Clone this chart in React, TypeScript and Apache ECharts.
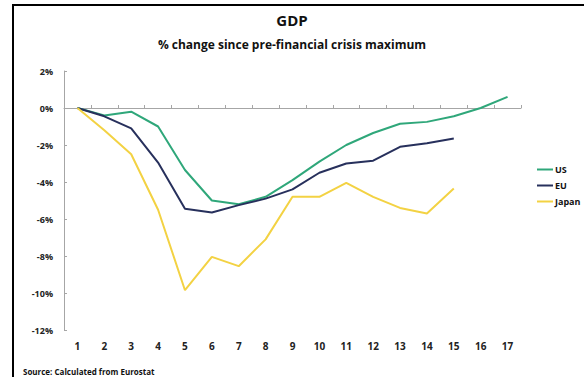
import React, { useEffect, useRef } from "react";
import * as echarts from "echarts";

const categories = ["1","2","3","4","5","6","7","8","9","10","11","12","13","14","15","16","17"];
const usValues = [0, -0.4, -0.2, -1.0, -3.35, -5.0, -5.2, -4.8, -3.9, -2.9, -2.0, -1.35, -0.85, -0.75, -0.45, 0.0, 0.6];
const euValues = [0, -0.45, -1.1, -2.95, -5.45, -5.65, -5.25, -4.9, -4.4, -3.5, -3.0, -2.85, -2.1, -1.9, -1.65];
const japanValues = [0, -1.2, -2.5, -5.5, -9.85, -8.05, -8.55, -7.1, -4.8, -4.8, -4.05, -4.8, -5.4, -5.7, -4.35];
const seriesNames = ["US", "EU", "Japan"];
const colors = ["#2fa77a", "#27305c", "#f3d243"];

const FONT = "'Open Sans', 'Liberation Sans', sans-serif";

export default function App() {
  const ref = useRef<HTMLDivElement>(null);
  useEffect(() => {
    const chart = echarts.init(ref.current!, null, { renderer: "svg" });
    chart.setOption({
      animation: false,
      backgroundColor: "#ffffff",
      title: [
        { text: "GDP", left: "center", top: 7, textStyle: { fontFamily: FONT, fontSize: 15, fontWeight: "bold", color: "#111" } },
        { text: "% change since pre-financial crisis maximum", left: "center", top: 33, textStyle: { fontFamily: FONT, fontSize: 12, fontWeight: "bold", color: "#111" } },
        { text: "Source: Calculated from Eurostat", left: 18, top: 362, textStyle: { fontFamily: FONT, fontSize: 8, fontWeight: "bold", color: "#111" } },
      ],
      legend: {
        orient: "vertical",
        left: 532,
        top: 160,
        itemWidth: 16,
        itemHeight: 2,
        itemGap: 7,
        icon: "rect",
        data: seriesNames,
        textStyle: { fontFamily: FONT, fontSize: 9, fontWeight: "bold", color: "#111", padding: [0, 0, 0, -3] },
      },
      grid: { left: 64, right: 63, top: 71, bottom: 47 },
      xAxis: [
        {
          type: "category",
          data: categories,
          position: "bottom",
          axisLine: { show: false, onZero: false },
          axisTick: { show: false },
          axisLabel: { fontFamily: FONT, fontSize: 10, fontWeight: "bold", color: "#222", margin: 11 },
        },
        {
          type: "category",
          data: categories,
          position: "bottom",
          axisLine: { show: true, onZero: true, lineStyle: { color: "#a6a6a6", width: 1 } },
          axisTick: { show: true, inside: true, length: 3, lineStyle: { color: "#a6a6a6" } },
          axisLabel: { show: false },
        },
      ],
      yAxis: {
        type: "value",
        min: -12,
        max: 2,
        interval: 2,
        axisLine: { show: true, lineStyle: { color: "#a6a6a6" } },
        axisTick: { show: true, inside: true, length: 3, lineStyle: { color: "#a6a6a6" } },
        splitLine: { show: false },
        axisLabel: { formatter: "{value}%", fontFamily: FONT, fontSize: 9, fontWeight: "bold", color: "#222", margin: 11 },
      },
      series: [
        { name: seriesNames[0], type: "line", data: usValues, color: colors[0], symbol: "none", lineStyle: { width: 2 } },
        { name: seriesNames[1], type: "line", data: euValues, color: colors[1], symbol: "none", lineStyle: { width: 2 } },
        { name: seriesNames[2], type: "line", data: japanValues, color: colors[2], symbol: "none", lineStyle: { width: 2 } },
      ],
      graphic: [
        { type: "line", shape: { x1: 13, y1: 5, x2: 584, y2: 5 }, style: { stroke: "#000", lineWidth: 2 } },
        { type: "line", shape: { x1: 13, y1: 4, x2: 13, y2: 377 }, style: { stroke: "#000", lineWidth: 2 } },
      ],
    });
    return () => chart.dispose();
  }, []);
  return <div ref={ref} style={{ position: "fixed", left: 0, top: 0, width: 584, height: 377 }} />;
}
